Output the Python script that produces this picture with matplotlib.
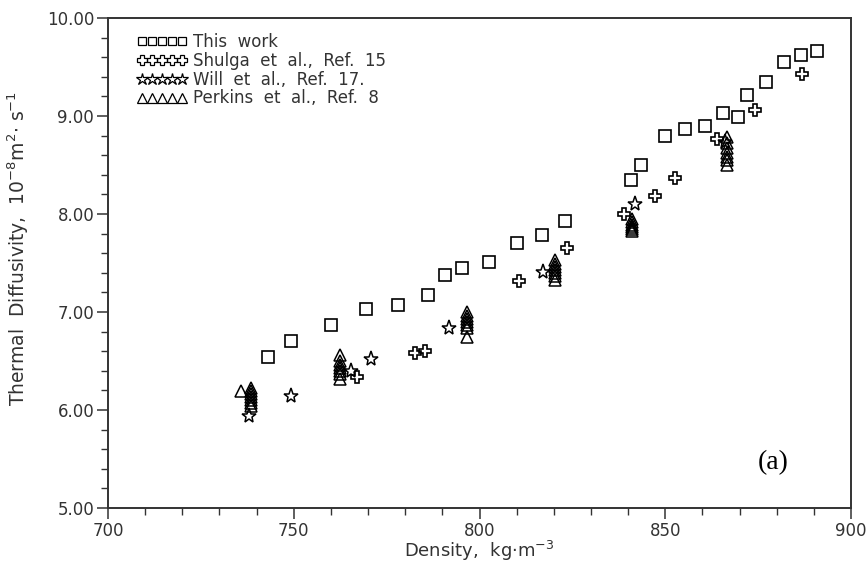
import numpy as np
import matplotlib.pyplot as plt

# This work
work_x = [743.1, 749.3, 759.9, 769.4, 778.1, 786.2, 790.7, 795.2, 802.6, 810.0,
          816.9, 822.9, 840.7, 843.5, 850.0, 855.4, 860.7, 865.6, 869.7, 872.1,
          877.0, 881.9, 886.4, 890.8]
work_y = [6.54, 6.70, 6.87, 7.03, 7.07, 7.17, 7.38, 7.45, 7.51, 7.70,
          7.79, 7.93, 8.35, 8.50, 8.80, 8.87, 8.90, 9.03, 8.99, 9.21,
          9.35, 9.55, 9.62, 9.66]

# Shulga et al., Ref. 15
shulga_x = [767.0, 782.6, 785.3, 810.6, 823.6, 838.9, 847.2, 852.5, 863.8, 874.2, 886.8]
shulga_y = [6.34, 6.58, 6.60, 7.32, 7.65, 8.00, 8.18, 8.37, 8.77, 9.06, 9.43]

# Will et al., Ref. 17
will_x = [738.0, 749.3, 765.3, 770.8, 791.7, 817.0, 841.9, 866.1]
will_y = [5.94, 6.14, 6.40, 6.52, 6.84, 7.41, 8.10, 8.74]

# Perkins et al., Ref. 8
perk_x = [735.7,
          738.6, 738.6, 738.6, 738.6, 738.6, 738.6, 738.6,
          762.4, 762.4, 762.4, 762.4, 762.4, 762.4, 762.4,
          796.6, 796.6, 796.6, 796.6, 796.6, 796.6, 796.6,
          820.3, 820.3, 820.3, 820.3, 820.3, 820.3, 820.3,
          841.1, 841.1, 841.1, 841.1, 841.1, 841.1,
          866.5, 866.5, 866.5, 866.5, 866.5, 866.5, 866.5]
perk_y = [6.19,
          6.22, 6.19, 6.16, 6.13, 6.10, 6.07, 6.04,
          6.56, 6.50, 6.46, 6.43, 6.40, 6.37, 6.32,
          7.00, 6.96, 6.93, 6.90, 6.87, 6.84, 6.74,
          7.53, 7.49, 7.46, 7.43, 7.40, 7.37, 7.33,
          7.95, 7.92, 7.89, 7.87, 7.85, 7.83,
          8.79, 8.72, 8.67, 8.62, 8.58, 8.55, 8.50]

plt.rcParams['font.family'] = 'DejaVu Sans'
txt = '#333333'

fig = plt.figure(figsize=(8.67, 5.64), dpi=100)
ax = fig.add_axes([0.1246, 0.0993, 0.857, 0.8687])

ms = 8
ax.plot(work_x, work_y, 's', ms=ms, mfc='none', mec='k', mew=1.2, label='This  work')
ax.plot(shulga_x, shulga_y, 'P', ms=ms+1, mfc='none', mec='k', mew=1.2, label='Shulga  et  al.,  Ref.  15')
ax.plot(will_x, will_y, '*', ms=ms+3, mfc='none', mec='k', mew=1.1, label='Will  et  al.,  Ref.  17.')
ax.plot(perk_x, perk_y, '^', ms=ms+1, mfc='none', mec='k', mew=1.1, label='Perkins  et  al.,  Ref.  8')

ax.set_xlim(700, 900)
ax.set_ylim(5, 10)
ax.set_xticks(np.arange(700, 901, 50))
ax.set_xticks(np.arange(700, 901, 10), minor=True)
ax.set_yticks(np.arange(5, 10.01, 1))
ax.set_yticks(np.arange(5, 10.01, 0.2), minor=True)
ax.set_yticklabels(['%.2f' % v for v in np.arange(5, 10.01, 1)])
ax.tick_params(which='major', direction='out', length=8, width=1.1, labelsize=12, pad=2, colors=txt)
ax.tick_params(which='minor', direction='out', length=5, width=1.0, colors=txt)
for s in ax.spines.values():
    s.set_linewidth(1.4)
    s.set_color('#333333')

ax.set_xlabel('Density,  kg$\\cdot$m$^{-3}$', fontsize=13, color=txt, labelpad=-1)
ax.set_ylabel('Thermal  Diffusivity,  10$^{-8}$m$^{2}$$\\cdot$ s$^{-1}$', fontsize=13.5, color=txt)
ax.yaxis.set_label_coords(-0.103, 0.53)

leg = ax.legend(loc='upper left', frameon=False, numpoints=5,
                handlelength=3.0, handletextpad=0.4, labelspacing=0.05,
                borderaxespad=0.2, fontsize=12, bbox_to_anchor=(0.025, 0.99))
for t in leg.get_texts():
    t.set_color(txt)
# legend symbols all roughly the same small size
for h, size in zip(leg.legend_handles, [6, 7.5, 9, 7.5]):
    h.set_markersize(size)
    h.set_markeredgewidth(0.9)

ax.text(0.895, 0.092, '(a)', transform=ax.transAxes, fontsize=20,
        family='Liberation Serif', ha='center', va='center')

fig.savefig('out.png', dpi=100)
